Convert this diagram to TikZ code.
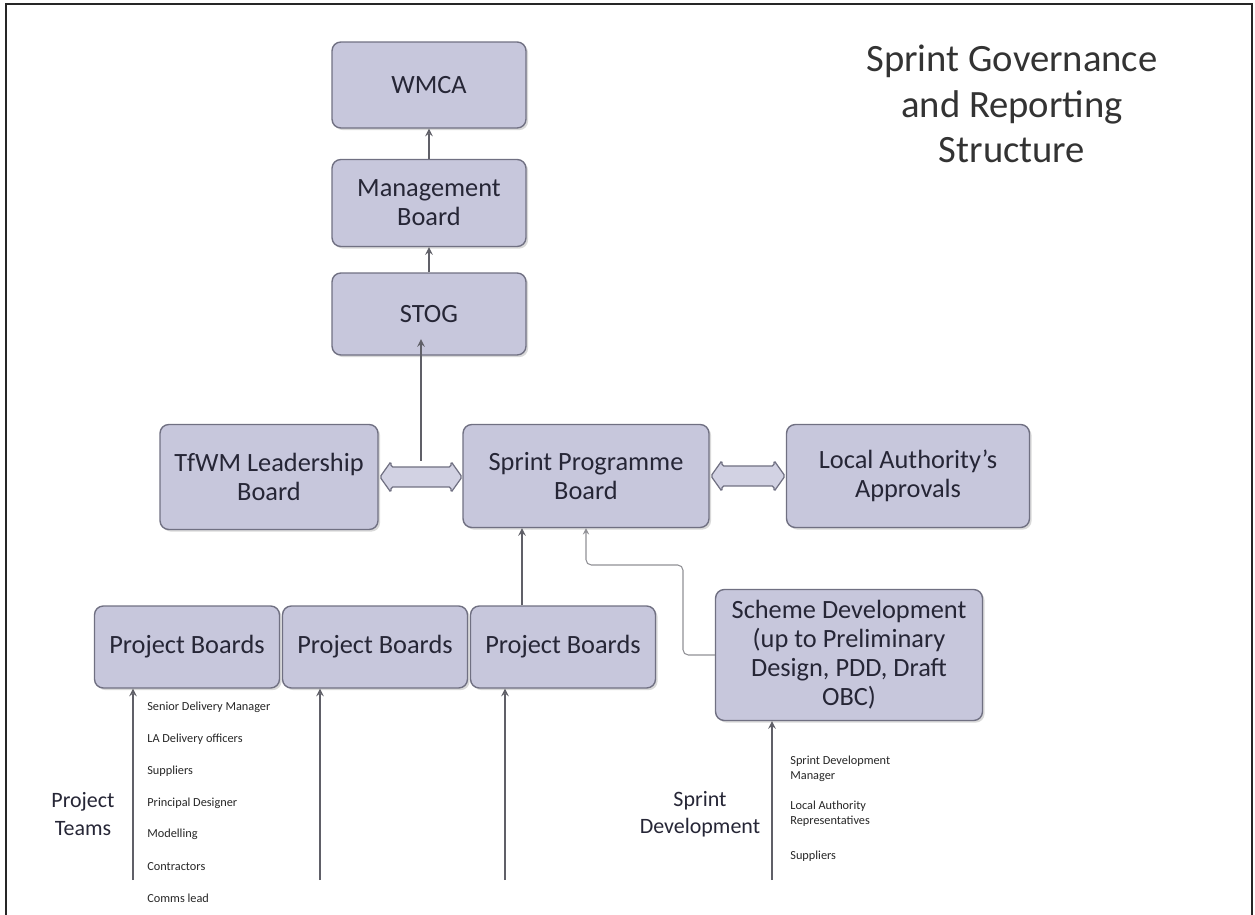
\documentclass[tikz,border=0pt]{standalone}
\usepackage{fontspec}
\setmainfont{Carlito}
\usetikzlibrary{shapes, arrows, positioning, shadows}
\definecolor{boxfill}{RGB}{199,199,220}
\definecolor{boxline}{RGB}{112,112,130}
\definecolor{boxtext}{RGB}{38,38,54}
\definecolor{linkgray}{RGB}{96,96,104}
\tikzstyle{board} = [draw=boxline, fill=boxfill, rounded corners=5pt, line width=0.8pt, align=center, text=boxtext, inner sep=2pt, font=\fontsize{15}{16.5}\selectfont, drop shadow={opacity=0.3, shadow xshift=1.2pt, shadow yshift=-1.2pt}]
\tikzstyle{twoway} = [draw=boxline, fill=boxfill!80, line width=0.7pt, rounded corners=1pt]
\tikzstyle{link} = [draw=linkgray, line width=0.9pt, -stealth]
\tikzstyle{label} = [text=boxtext, align=center, font=\fontsize{12.5}{15.5}\selectfont]
\tikzstyle{item} = [text=black!85, anchor=west, inner sep=0pt, font=\fontsize{7}{8.5}\selectfont]

\begin{document}
\begin{tikzpicture}[x=0.02cm, y=-0.02cm]
	\useasboundingbox (0,0) rectangle (1255,915);
	\draw[line width=1.6pt, black!85] (6,915) -- (6,4) -- (1252,4) -- (1252,915);
	\node[text=black!80, align=center, font=\fontsize{22}{26}\selectfont] (title) at (1012,104) {Sprint Governance\\and Reporting\\Structure};

	\node[board, minimum width=3.88cm, minimum height=1.72cm] (wmca) at (429,85) {WMCA};
	\node[board, minimum width=3.88cm, minimum height=1.74cm] (mgmt) at (429,203) {Management\\Board};
	\node[board, minimum width=3.88cm, minimum height=1.64cm] (stog) at (429,314) {STOG};

	\node[board, minimum width=4.36cm, minimum height=2.1cm] (tfwm) at (269,477) {TfWM Leadership\\Board};
	\node[board, minimum width=4.92cm, minimum height=2.06cm] (spb) at (586,476) {Sprint Programme\\Board};
	\node[board, minimum width=4.86cm, minimum height=2.06cm] (laa) at (908,476) {Local Authority's\\Approvals};

	\coordinate (arrL) at (421,477);
	\coordinate (arrR) at (748,476);
	\filldraw[twoway] (arrL) ++(-41,0) -- ++(11,-15.5) -- ++(0,5.5) -- ++(60,0) -- ++(0,-5.5) -- ++(11,15.5) -- ++(-11,15.5) -- ++(0,-5.5) -- ++(-60,0) -- ++(0,5.5) -- cycle;
	\filldraw[twoway] (arrR) ++(-37,0) -- ++(11,-15.5) -- ++(0,5.5) -- ++(52,0) -- ++(0,-5.5) -- ++(11,15.5) -- ++(-11,15.5) -- ++(0,-5.5) -- ++(-52,0) -- ++(0,5.5) -- cycle;

	\node[board, minimum width=3.7cm, minimum height=1.64cm] (pb1) at (187,647) {Project Boards};
	\node[board, minimum width=3.7cm, minimum height=1.64cm] (pb2) at (375,647) {Project Boards};
	\node[board, minimum width=3.7cm, minimum height=1.64cm] (pb3) at (563,647) {Project Boards};
	\node[board, minimum width=5.34cm, minimum height=2.62cm] (sch) at (849,655) {Scheme Development\\(up to Preliminary\\Design, PDD, Draft\\OBC)};

	\draw[link] (mgmt.north) -- (wmca.south);
	\draw[link] (stog.north) -- (mgmt.south);
	\draw[link] ([yshift=0.33cm]arrL) -- ([yshift=0.33cm]arrL |- stog.south);
	\draw[link] ([xshift=-0.82cm]pb3.north) -- ([xshift=-0.82cm]pb3.north |- spb.south);
	\draw[link, draw=linkgray!70, line width=0.6pt, rounded corners=3pt] (sch.west) -| (683,565) -| (spb.south);

	\coordinate (in1) at (133,880);
	\coordinate (in2) at (320,880);
	\coordinate (in3) at (505,880);
	\coordinate (in4) at (772,880);
	\draw[link] (in1) -- (in1 |- pb1.south);
	\draw[link] (in2) -- (in2 |- pb2.south);
	\draw[link] (in3) -- (in3 |- pb3.south);
	\draw[link] (in4) -- (in4 |- sch.south);

	\node[label] (teams) at (83,814) {Project\\Teams};
	\node[label] (dev) at (700,814) {Sprint\\Development};

	\foreach \who [count=\i] in {Senior Delivery Manager, LA Delivery officers, Suppliers, Principal Designer, Modelling, Contractors, Comms lead}
		\node[item] (pt\i) at (147,{676+31.7*\i}) {\who};

	\node[item, align=left] (sd1) at (790,769) {Sprint Development\\Manager};
	\node[item, align=left] (sd2) at (790,814) {Local Authority\\Representatives};
	\node[item] (sd3) at (790,856) {Suppliers};
\end{tikzpicture}
\end{document}
